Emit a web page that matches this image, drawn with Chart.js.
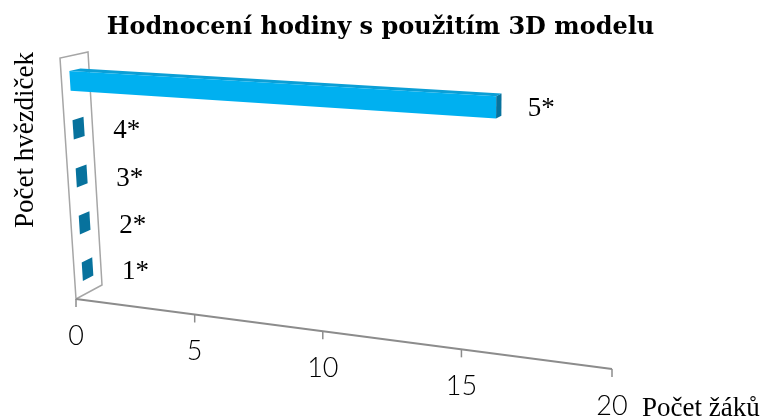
<!DOCTYPE html>
<html lang="cs">
<head>
<meta charset="utf-8">
<title>Hodnocení hodiny</title>
<script src="https://cdn.jsdelivr.net/npm/chart.js@4.4.1/dist/chart.umd.min.js"></script>
<style>
  html, body { margin: 0; padding: 0; background: #fff; }
  canvas { display: block; }
</style>
</head>
<body>
<canvas id="rating-chart" width="766" height="419"></canvas>
<script>
const categories = ['1*', '2*', '3*', '4*', '5*'];
const studentCounts = [0, 0, 0, 0, 16];
const valueTicks = [0, 5, 10, 15, 20];

const chartTitle = 'Hodnocení hodiny s použitím 3D modelu';
const valueAxisTitle = 'Počet žáků';
const categoryAxisTitle = 'Počet hvězdiček';

// corners of the front (depth 0) and back (depth 1) planes of the 3D box:
// origin, max value on the floor, max value at the top, top of the wall
const frontPlane = [[76, 299], [612, 369], [620, 88], [60, 58]];
const backPlane = [[102, 285], [621, 354], [629, 82], [88, 52]];
const barDepth = [0.3, 0.7];

const serifFont = '27px "Liberation Serif", "Times New Roman", serif';
const tickFont = '300 27px Lato, "DejaVu Sans", sans-serif';

// maps the unit square onto a quadrilateral (perspective transform)
function squareToQuad(quad) {
  const [[x0, y0], [x1, y1], [x2, y2], [x3, y3]] = quad;
  const dx1 = x1 - x2, dx2 = x3 - x2, dx3 = x0 - x1 + x2 - x3;
  const dy1 = y1 - y2, dy2 = y3 - y2, dy3 = y0 - y1 + y2 - y3;
  const den = dx1 * dy2 - dx2 * dy1;
  const g = (dx3 * dy2 - dx2 * dy3) / den;
  const h = (dx1 * dy3 - dx3 * dy1) / den;
  const a = x1 - x0 + g * x1, b = x3 - x0 + h * x3;
  const d = y1 - y0 + g * y1, e = y3 - y0 + h * y3;
  return (u, v) => {
    const w = g * u + h * v + 1;
    return [(a * u + b * v + x0) / w, (d * u + e * v + y0) / w];
  };
}

const front = squareToQuad(frontPlane);
const back = squareToQuad(backPlane);

function project(u, v, depth) {
  const p = front(u, v);
  const q = back(u, v);
  return [p[0] + (q[0] - p[0]) * depth, p[1] + (q[1] - p[1]) * depth];
}

function fillQuad(ctx, points, color) {
  ctx.beginPath();
  ctx.moveTo(points[0][0], points[0][1]);
  for (let i = 1; i < points.length; i++) ctx.lineTo(points[i][0], points[i][1]);
  ctx.closePath();
  ctx.fillStyle = color;
  ctx.fill();
}

const perspectivePlugin = {
  id: 'perspective',
  beforeDatasetsDraw() {
    // bars are drawn as 3D boxes in afterDraw
    return false;
  },
  afterDraw(chart) {
    const ctx = chart.ctx;
    const area = chart.chartArea;
    const xScale = chart.scales.x;
    const toU = (px) => (px - area.left) / (area.right - area.left);
    const toV = (py) => (area.bottom - py) / (area.bottom - area.top);

    ctx.save();
    ctx.lineJoin = 'miter';

    // side wall
    const wall = [project(0, 0, 0), project(0, 1, 0), project(0, 1, 1), project(0, 0, 1)];
    ctx.beginPath();
    wall.forEach((p, i) => (i ? ctx.lineTo(p[0], p[1]) : ctx.moveTo(p[0], p[1])));
    ctx.closePath();
    ctx.strokeStyle = '#a6a6a6';
    ctx.lineWidth = 1.5;
    ctx.stroke();

    // value axis along the front edge of the floor
    const uMin = toU(xScale.getPixelForValue(xScale.min));
    const uMax = toU(xScale.getPixelForValue(xScale.max));
    const a0 = project(uMin, 0, 0);
    const a1 = project(uMax, 0, 0);
    ctx.beginPath();
    ctx.moveTo(a0[0], a0[1]);
    ctx.lineTo(a1[0], a1[1]);
    ctx.strokeStyle = '#8c8c8c';
    ctx.lineWidth = 2;
    ctx.stroke();

    ctx.font = tickFont;
    ctx.fillStyle = '#000';
    ctx.textAlign = 'center';
    ctx.textBaseline = 'middle';
    valueTicks.forEach((val) => {
      const p = project(toU(xScale.getPixelForValue(val)), 0, 0);
      ctx.beginPath();
      ctx.moveTo(p[0], p[1]);
      ctx.lineTo(p[0], p[1] + 8);
      ctx.strokeStyle = '#8c8c8c';
      ctx.lineWidth = 1.5;
      ctx.stroke();
      ctx.fillText(String(val), p[0], p[1] + 37);
    });

    // bars
    const meta = chart.getDatasetMeta(0);
    const [d0, d1] = barDepth;
    meta.data.forEach((bar, i) => {
      const { x, y, base, height } = bar.getProps(['x', 'y', 'base', 'height'], true);
      const t0 = toU(base);
      const t1 = toU(x);
      const s0 = toV(y + height / 2);
      const s1 = toV(y - height / 2);
      if (t1 > t0) {
        fillQuad(ctx, [project(t0, s1, d0), project(t1, s1, d0), project(t1, s1, d1), project(t0, s1, d1)], '#0b9fd6');
        fillQuad(ctx, [project(t0, s0, d0), project(t1, s0, d0), project(t1, s1, d0), project(t0, s1, d0)], '#00b0f0');
      }
      fillQuad(ctx, [project(t1, s0, d0), project(t1, s1, d0), project(t1, s1, d1), project(t1, s0, d1)], '#07729d');

      // category label just past the end of the bar
      const anchor = project(t1, toV(y), 0.5);
      ctx.font = serifFont;
      ctx.fillStyle = '#000';
      ctx.textAlign = 'center';
      ctx.textBaseline = 'alphabetic';
      ctx.fillText(categories[i], anchor[0] + 48 - 7 * t1, anchor[1] + 10);
    });

    // axis titles
    ctx.font = serifFont;
    ctx.fillStyle = '#000';
    ctx.textAlign = 'left';
    ctx.textBaseline = 'alphabetic';
    ctx.fillText(valueAxisTitle, a1[0] + 30, a1[1] + 47);

    ctx.translate(33, 140);
    ctx.rotate(-Math.PI / 2);
    ctx.textAlign = 'center';
    ctx.fillText(categoryAxisTitle, 0, 0);
    ctx.restore();
  }
};

const ratingCanvas = document.getElementById('rating-chart');

new Chart(ratingCanvas, {
  type: 'bar',
  data: {
    labels: categories,
    datasets: [
      {
        label: valueAxisTitle,
        data: studentCounts,
        backgroundColor: '#00b0f0',
        categoryPercentage: 1,
        barPercentage: 0.4,
      },
    ],
  },
  options: {
    indexAxis: 'y',
    responsive: false,
    animation: false,
    layout: { padding: { right: 5 } },
    scales: {
      x: { display: false, min: 0, max: 20 },
      y: { display: false, reverse: true, offset: true },
    },
    plugins: {
      legend: { display: false },
      tooltip: { enabled: false },
      title: {
        display: true,
        text: chartTitle,
        color: '#000',
        font: { family: '"DejaVu Serif", serif', size: 24, weight: 'bold' },
        padding: { top: 13, bottom: 6 },
      },
    },
  },
  plugins: [perspectivePlugin],
});
</script>
</body>
</html>
